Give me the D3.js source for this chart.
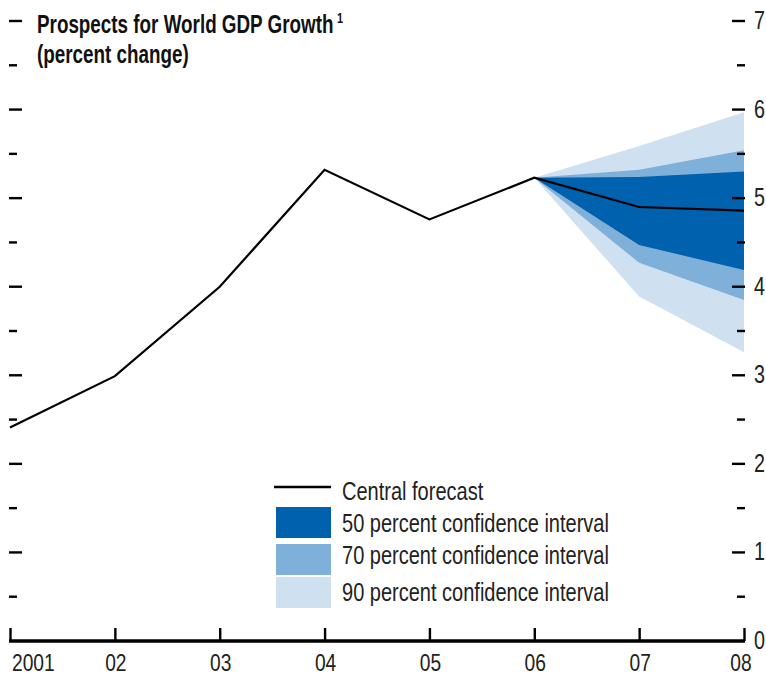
<!DOCTYPE html>
<html>
<head>
<meta charset="utf-8">
<script src="https://cdn.jsdelivr.net/npm/d3@7"></script>
<style>
  body { margin: 0; background: #fff; }
  svg { display: block; }
  text { font-family: "Liberation Sans", Arial, sans-serif; }
</style>
</head>
<body>
<svg id="chart" width="766" height="677"></svg>
<script>
// ---- data ----
const years = [2001, 2002, 2003, 2004, 2005, 2006, 2007, 2008];
const yearLabels = ["2001", "02", "03", "04", "05", "06", "07", "08"];
const central = [2.41, 2.99, 4.00, 5.32, 4.76, 5.23, 4.90, 4.86];
const fanYears = [2006, 2007, 2008];
const ci90Upper = [5.23, 5.59, 5.97];
const ci90Lower = [5.23, 3.89, 3.26];
const ci70Upper = [5.23, 5.32, 5.54];
const ci70Lower = [5.23, 4.27, 3.85];
const ci50Upper = [5.23, 5.24, 5.30];
const ci50Lower = [5.23, 4.47, 4.19];
const yTicks = [0, 1, 2, 3, 4, 5, 6, 7];
const yMinorTicks = [0.5, 1.5, 2.5, 3.5, 4.5, 5.5, 6.5];
const legendItems = ["Central forecast", "50 percent confidence interval", "70 percent confidence interval", "90 percent confidence interval"];
const colors = { c50: "#0061ae", c70: "#7eb0da", c90: "#cfe1f1", line: "#000000" };

const FS = 26;        // font size (condensed via horizontal scale)
const SX = 0.76;      // horizontal condensing factor
const TXT = "#222";

const svg = d3.select("#chart");
const x = d3.scaleLinear().domain([2001, 2008]).range([10, 744]);
const y = d3.scaleLinear().domain([0, 7]).range([641, 21]);

// helper: condensed text placed at (px, py)
function ctext(parent, px, py, str, opts = {}) {
  const t = parent.append("text")
    .attr("transform", `translate(${px},${py}) scale(${opts.sx || SX},1)`)
    .attr("font-size", opts.fs || FS)
    .attr("fill", opts.fill || TXT)
    .attr("text-anchor", opts.anchor || "start")
    .attr("font-weight", opts.weight || "normal");
  if (str !== null) t.text(str);
  return t;
}

// fan bands
const bands = [
  { up: ci90Upper, lo: ci90Lower, color: colors.c90 },
  { up: ci70Upper, lo: ci70Lower, color: colors.c70 },
  { up: ci50Upper, lo: ci50Lower, color: colors.c50 }
];
const area = d3.area().x(d => x(d.yr)).y0(d => y(d.lo)).y1(d => y(d.up));
bands.forEach(b => {
  const pts = fanYears.map((yr, i) => ({ yr, up: b.up[i], lo: b.lo[i] }));
  svg.append("path").datum(pts).attr("d", area).attr("fill", b.color);
});

// central line
const line = d3.line().x((d, i) => x(years[i])).y(d => y(d));
svg.append("path").datum(central).attr("d", line)
  .attr("fill", "none").attr("stroke", colors.line).attr("stroke-width", 2.2);

// left ticks (no labels)
const gl = svg.append("g");
gl.selectAll("line.maj").data(yTicks.filter(d => d > 0)).join("line")
  .attr("x1", 9).attr("x2", 22).attr("y1", d => y(d)).attr("y2", d => y(d))
  .attr("stroke", "#000").attr("stroke-width", 2.4);
gl.selectAll("line.min").data(yMinorTicks).join("line")
  .attr("x1", 9).attr("x2", 17).attr("y1", d => y(d)).attr("y2", d => y(d))
  .attr("stroke", "#000").attr("stroke-width", 2.4);

// right ticks + labels
const gr = svg.append("g");
gr.selectAll("line.maj").data(yTicks.filter(d => d > 0)).join("line")
  .attr("x1", 732).attr("x2", 745).attr("y1", d => y(d)).attr("y2", d => y(d))
  .attr("stroke", "#000").attr("stroke-width", 2.4);
gr.selectAll("line.min").data(yMinorTicks).join("line")
  .attr("x1", 737).attr("x2", 745).attr("y1", d => y(d)).attr("y2", d => y(d))
  .attr("stroke", "#000").attr("stroke-width", 2.4);
yTicks.forEach(d => ctext(gr, 754, y(d) + 8, d3.format("d")(d)));

// bottom axis
const xAxis = d3.axisTop(x).tickValues(years).tickSize(13).tickFormat("");
const gx = svg.append("g").attr("transform", `translate(0,${y(0)})`).call(xAxis);
gx.select(".domain").attr("stroke-width", 3.4).attr("d", `M${x(2001) - 1},0H${x(2008) + 1}`);
gx.selectAll(".tick line").attr("stroke-width", 2.4);
years.forEach((yr, i) => {
  const px = i === 0 ? x(yr) + 2 : x(yr) + (i === years.length - 1 ? -3 : 1);
  ctext(svg, px, 671, yearLabels[i], { anchor: i === 0 ? "start" : "middle", fs: 24, sx: 0.8 });
});

// title
const title = ctext(svg, 37, 33, null, { weight: "bold", sx: 0.725, fill: "#111" });
title.append("tspan").text("Prospects for World GDP Growth");
title.append("tspan").attr("font-size", 15).attr("dx", 5).attr("dy", -10).text("1");
ctext(svg, 37, 63, "(percent change)", { weight: "bold", sx: 0.725, fill: "#111" });

// legend
const lg = svg.append("g");
lg.append("line").attr("x1", 274).attr("x2", 331).attr("y1", 487).attr("y2", 487)
  .attr("stroke", "#000").attr("stroke-width", 2.6);
const boxColors = [colors.c50, colors.c70, colors.c90];
const boxY = [507, 544, 577];
lg.selectAll("rect").data(boxColors).join("rect")
  .attr("x", 276).attr("width", 55).attr("y", (d, i) => boxY[i]).attr("height", 31).attr("fill", d => d);
const textY = [500, 532, 564, 601];
legendItems.forEach((s, i) => ctext(lg, 342, textY[i], s, { sx: 0.77 }));
</script>
</body>
</html>
